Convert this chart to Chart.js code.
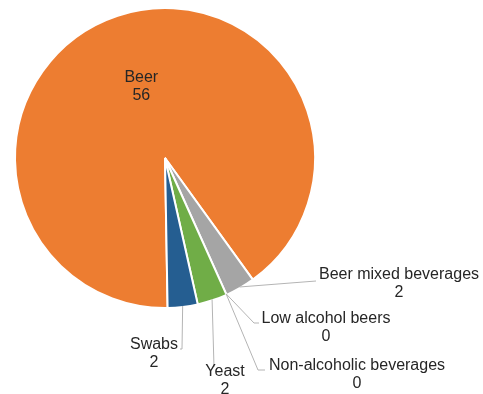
<!DOCTYPE html>
<html>
<head>
<meta charset="utf-8">
<script src="https://cdn.jsdelivr.net/npm/chart.js@4"></script>
<style>
  html, body { margin: 0; padding: 0; background: #fff; }
  #sampleTypes { display: block; }
</style>
</head>
<body>
<canvas id="sampleTypes" width="483" height="394"></canvas>
<script>
const categories = ['Beer', 'Beer mixed beverages', 'Low alcohol beers', 'Non-alcoholic beverages', 'Yeast', 'Swabs'];
const counts = [56, 2, 0, 0, 2, 2];
const colours = ['#ED7D31', '#A5A5A5', '#5B9BD5', '#FFC000', '#70AD47', '#255E91'];

// where each label sits, relative to the pie centre (text centre + leader bend)
const labelSpots = [
  { inside: true },
  { tx: 234, ty: 117, bend: [[151, 123]] },
  { tx: 161, ty: 161, bend: [[89, 165], [94, 165]] },
  { tx: 192, ty: 208, bend: [[93, 212], [100, 212]] },
  { tx: 60, ty: 214, bend: [[49, 209]] },
  { tx: -11, ty: 187, bend: [[17, 191], [15, 191]] }
];

const sliceLabels = {
  id: 'sliceLabels',
  afterDatasetsDraw(chart) {
    const ctx = chart.ctx;
    const arcs = chart.getDatasetMeta(0).data;
    ctx.save();
    ctx.font = '16px "Liberation Sans", Arial, sans-serif';
    ctx.textAlign = 'center';
    ctx.textBaseline = 'middle';
    arcs.forEach((arc, i) => {
      const p = arc.getProps(['x', 'y', 'startAngle', 'endAngle', 'outerRadius'], true);
      const spot = labelSpots[i];
      let tx, ty;
      if (spot.inside) {
        const pos = arc.tooltipPosition(true);
        tx = pos.x; ty = pos.y - 9;
      } else {
        const mid = (p.startAngle + p.endAngle) / 2;
        const sx = p.x + Math.cos(mid) * (p.outerRadius - 1);
        const sy = p.y + Math.sin(mid) * (p.outerRadius - 1);
        ctx.strokeStyle = '#b4b4b4';
        ctx.lineWidth = 1;
        ctx.beginPath();
        ctx.moveTo(sx, sy);
        spot.bend.forEach(b => ctx.lineTo(p.x + b[0], p.y + b[1]));
        ctx.stroke();
        tx = p.x + spot.tx; ty = p.y + spot.ty;
      }
      ctx.fillStyle = '#262626';
      ctx.fillText(categories[i], tx, ty);
      ctx.fillText(String(counts[i]), tx, ty + 18);
    });
    ctx.restore();
  }
};

new Chart(document.getElementById('sampleTypes'), {
  type: 'pie',
  data: {
    labels: categories,
    datasets: [{
      data: counts,
      backgroundColor: colours,
      borderColor: '#ffffff',
      borderWidth: 2
    }]
  },
  options: {
    responsive: false,
    animation: false,
    devicePixelRatio: 1,
    rotation: 179,
    layout: { padding: { left: 14, top: 7, right: 167, bottom: 85 } },
    plugins: {
      legend: { display: false },
      tooltip: { enabled: false }
    }
  },
  plugins: [sliceLabels]
});
</script>
</body>
</html>
